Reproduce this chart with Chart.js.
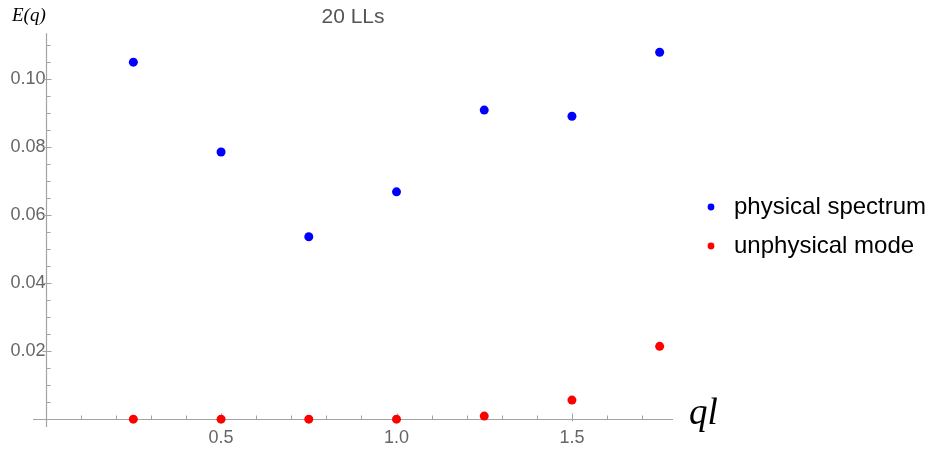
<!DOCTYPE html>
<html>
<head>
<meta charset="utf-8">
<script src="https://cdn.jsdelivr.net/npm/chart.js@4/dist/chart.umd.min.js"></script>
<style>
  html, body { margin: 0; background: #fff; }
  #wrap { width: 931px; height: 451px; }
</style>
</head>
<body>
<div id="wrap"><canvas id="chart"></canvas></div>
<script>
// values
const qValues = [0.25, 0.5, 0.75, 1.0, 1.25, 1.5, 1.75];
const physicalSpectrum = [0.1049, 0.0785, 0.0536, 0.0668, 0.0908, 0.0890, 0.1078];
const unphysicalMode = [0.0000, 0.0000, 0.0000, 0.0000, 0.0009, 0.0056, 0.0214];

const seriesNames = ['physical spectrum', 'unphysical mode'];
const seriesColors = ['#0000ff', '#ff0000'];

const xTicks = [0.5, 1.0, 1.5];
const xTickLabels = ['0.5', '1.0', '1.5'];
const yTicks = [0.02, 0.04, 0.06, 0.08, 0.10];
const yTickLabels = ['0.02', '0.04', '0.06', '0.08', '0.10'];

const plotTitle = '20 LLs';
const xAxisLabel = 'ql';
const yAxisLabel = 'E(q)';

const axisColor = '#a3a3a3';
const labelColor = '#666666';
const sans = '"Liberation Sans", Arial, sans-serif';
const serif = '"Liberation Serif", "Times New Roman", serif';

const toPoints = (ys) => qValues.map((q, i) => ({ x: q, y: ys[i] }));

// Mathematica style axes: crossing at the origin, ticks pointing inward
const axesPlugin = {
  id: 'mmaAxes',
  beforeDatasetsDraw(chart) {
    const { ctx, chartArea } = chart;
    const x = chart.scales.x, y = chart.scales.y;
    const x0 = Math.round(x.getPixelForValue(0)) + 0.5;
    const y0 = Math.round(y.getPixelForValue(0)) + 0.5;
    ctx.save();
    ctx.strokeStyle = axisColor;
    ctx.lineWidth = 1.2;
    ctx.beginPath();
    ctx.moveTo(chartArea.left, y0);
    ctx.lineTo(chartArea.right, y0);
    ctx.moveTo(x0, chartArea.bottom);
    ctx.lineTo(x0, chartArea.top);
    ctx.stroke();

    ctx.lineWidth = 1;
    ctx.beginPath();
    // x minor ticks every 0.1
    for (let k = 1; k <= 17; k++) {
      const px = Math.round(x.getPixelForValue(k / 10)) + 0.5;
      const major = k % 5 === 0;
      ctx.moveTo(px, y0 + (major ? 2 : 0));
      ctx.lineTo(px, y0 - (major ? 6 : 4));
    }
    // y minor ticks every 0.005
    for (let k = 1; k <= 22; k++) {
      const py = Math.round(y.getPixelForValue(k * 0.005)) + 0.5;
      const major = k % 4 === 0;
      ctx.moveTo(x0 - (major ? 4 : 0), py);
      ctx.lineTo(x0 + (major ? 5 : 4), py);
    }
    ctx.stroke();
    ctx.restore();
  },
  afterDraw(chart) {
    const { ctx } = chart;
    ctx.save();
    // axis labels
    ctx.fillStyle = '#000';
    ctx.textBaseline = 'alphabetic';
    ctx.font = 'italic 19px ' + serif;
    ctx.fillText(yAxisLabel, 12, 21);
    ctx.font = 'italic 37px ' + serif;
    ctx.fillText(xAxisLabel, 689, 424);

    // legend
    ctx.font = '24px ' + sans;
    const rows = [214, 253];
    seriesNames.forEach((name, i) => {
      ctx.fillStyle = seriesColors[i];
      ctx.beginPath();
      ctx.arc(711, rows[i] - 7, 3.4, 0, Math.PI * 2);
      ctx.fill();
      ctx.fillStyle = '#000';
      ctx.fillText(name, 734, rows[i]);
    });
    ctx.restore();
  }
};

new Chart(document.getElementById('chart'), {
  type: 'scatter',
  data: {
    datasets: [
      {
        label: seriesNames[0],
        data: toPoints(physicalSpectrum),
        backgroundColor: seriesColors[0],
        borderWidth: 0,
        pointRadius: 4.5,
        clip: false
      },
      {
        label: seriesNames[1],
        data: toPoints(unphysicalMode),
        backgroundColor: seriesColors[1],
        borderWidth: 0,
        pointRadius: 4.5,
        clip: false
      }
    ]
  },
  options: {
    responsive: true,
    maintainAspectRatio: false,
    animation: false,
    layout: { padding: { left: 33, right: 258, top: 0, bottom: 0 } },
    plugins: {
      legend: { display: false },
      tooltip: { enabled: false },
      title: {
        display: true,
        text: plotTitle,
        fullSize: false,
        color: '#555',
        font: { family: sans, size: 21, weight: 'normal' },
        padding: { top: 5, bottom: 3 }
      }
    },
    scales: {
      x: {
        type: 'linear',
        min: -0.036,
        max: 1.788,
        grid: { display: false, drawTicks: false },
        border: { display: false },
        afterFit: (s) => { s.height = 24; },
        afterBuildTicks: (s) => { s.ticks = xTicks.map(v => ({ value: v })); },
        ticks: {
          autoSkip: false,
          maxRotation: 0,
          padding: 0,
          color: labelColor,
          font: { family: sans, size: 18 },
          callback: (v) => xTickLabels[xTicks.indexOf(v)]
        }
      },
      y: {
        type: 'linear',
        position: { x: 0 },
        min: -0.0023,
        max: 0.1134,
        grid: { display: false, drawTicks: false },
        border: { display: false },
        afterBuildTicks: (s) => { s.ticks = yTicks.map(v => ({ value: v })); },
        ticks: {
          autoSkip: false,
          padding: 6,
          color: labelColor,
          font: { family: sans, size: 18 },
          callback: (v) => yTickLabels[yTicks.indexOf(v)]
        }
      }
    }
  },
  plugins: [axesPlugin]
});
</script>
</body>
</html>
